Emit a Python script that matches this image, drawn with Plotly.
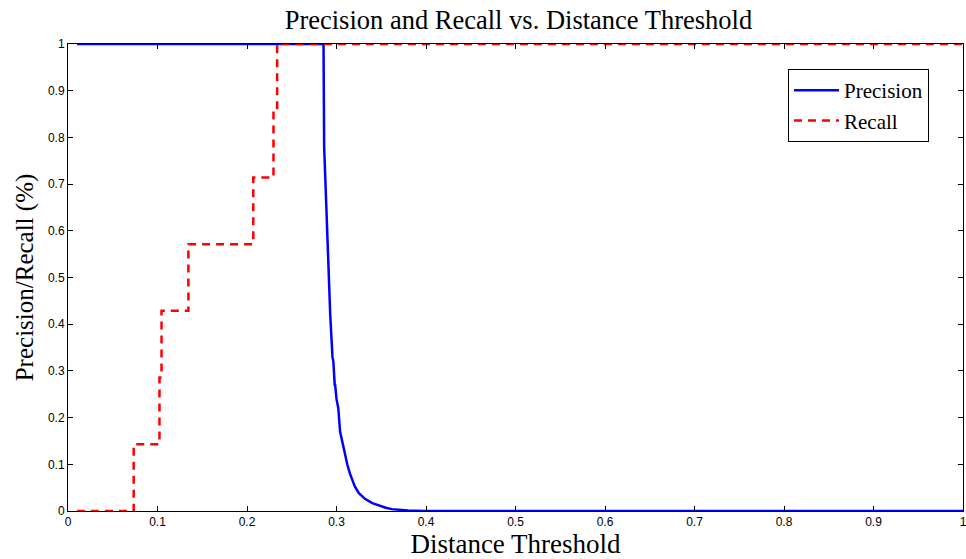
import plotly.graph_objects as go

prec_x = [0.01, 0.2855, 0.2862, 0.288, 0.2906, 0.293, 0.2955, 0.2965, 0.298, 0.2985, 0.300, 0.302,
          0.304, 0.3056, 0.308, 0.3094, 0.312, 0.315, 0.318, 0.3206, 0.325, 0.3318, 0.34, 0.3468,
          0.355, 0.3618, 0.38, 0.40, 1.0]
prec_y = [1, 1, 0.78, 0.68, 0.53, 0.42, 0.33, 0.32, 0.27, 0.27, 0.24, 0.22,
          0.17, 0.155, 0.13, 0.12, 0.10, 0.08, 0.065, 0.052, 0.038, 0.026, 0.017, 0.012,
          0.007, 0.004, 0.001, 0.0, 0.0]

rec_x = [0.01, 0.0734, 0.0734, 0.1022, 0.1022, 0.1045, 0.1045, 0.1345, 0.1345, 0.207, 0.207,
         0.2296, 0.2296, 0.2337, 0.2337, 1.0]
rec_y = [0, 0, 1/7, 1/7, 2/7, 2/7, 3/7, 3/7, 4/7, 4/7, 5/7, 5/7, 6/7, 6/7, 1, 1]

tick_vals = [0, 0.1, 0.2, 0.3, 0.4, 0.5, 0.6, 0.7, 0.8, 0.9, 1]
tick_text = ["0", "0.1", "0.2", "0.3", "0.4", "0.5", "0.6", "0.7", "0.8", "0.9", "1"]

fig = go.Figure()
fig.add_trace(go.Scatter(x=prec_x, y=prec_y, mode="lines", name="Precision",
                         line=dict(color="#0000ff", width=2.5)))
fig.add_trace(go.Scatter(x=rec_x, y=rec_y, mode="lines", name="Recall",
                         line=dict(color="#ff0000", width=2.5, dash="8px,6px")))

axis_common = dict(showline=True, linecolor="black", linewidth=1, mirror="ticks",
                   ticks="inside", ticklen=5, tickcolor="black", showgrid=False, zeroline=False,
                   automargin=False, tickvals=tick_vals, ticktext=tick_text,
                   tickfont=dict(family="Liberation Sans, Arial", size=12, color="black"))

fig.update_layout(
    width=966, height=559,
    margin=dict(l=68, r=3, t=44, b=48, autoexpand=False),
    paper_bgcolor="white", plot_bgcolor="white",
    title=dict(text="Precision and Recall vs. Distance Threshold", x=0.5367, xanchor="center",
               y=0.965, yanchor="middle", automargin=False,
               font=dict(family="Liberation Serif, Times New Roman", size=26.5, color="black")),
    xaxis=dict(range=[0, 1], ticklabeloverflow="allow",
               title=dict(text="Distance Threshold", standoff=4,
                          font=dict(family="Liberation Serif, Times New Roman", size=27, color="black")),
               **axis_common),
    yaxis=dict(range=[0, 1],
               title=dict(text="Precision/Recall (%)", standoff=7,
                          font=dict(family="Liberation Serif, Times New Roman", size=25, color="black")),
               **axis_common),
    legend=dict(x=0.8045, y=0.9465, xanchor="left", yanchor="top",
                bordercolor="black", borderwidth=1, bgcolor="white", itemwidth=45,
                font=dict(family="Liberation Serif, Times New Roman", size=21, color="black"),
                tracegroupgap=0),
    showlegend=True,
)

fig.write_html(
    "out.html",
    config={"displayModeBar": False},
    post_script="document.body.style.margin='0';document.body.style.overflow='hidden';",
)
